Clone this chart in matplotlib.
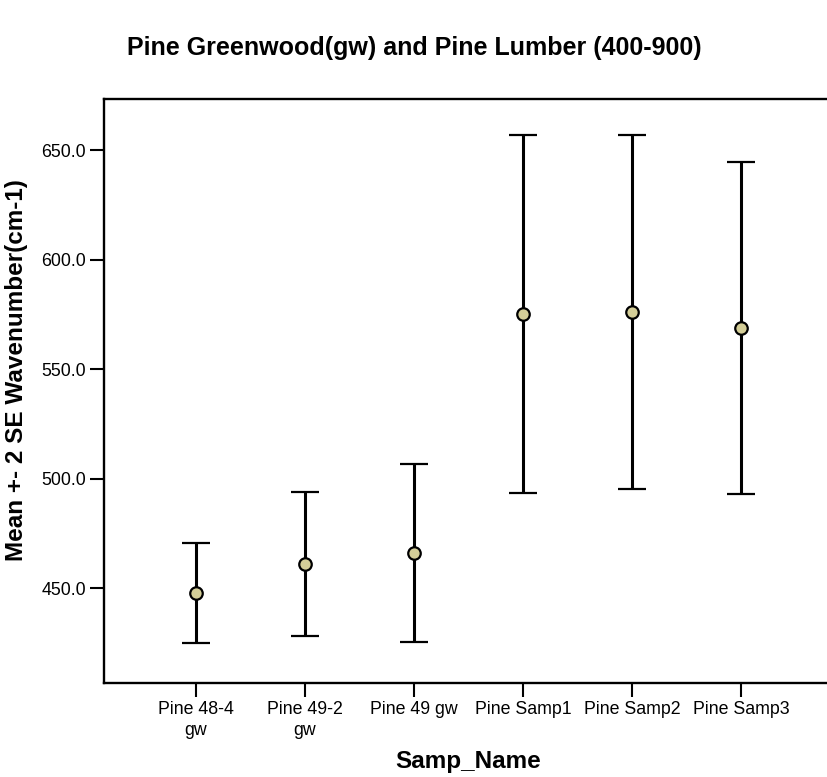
import matplotlib
matplotlib.use("Agg")
import matplotlib.pyplot as plt
import numpy as np

plt.rcParams['font.family'] = ['Liberation Sans', 'DejaVu Sans']

samples = ["Pine 48-4\ngw", "Pine 49-2\ngw", "Pine 49 gw", "Pine Samp1", "Pine Samp2", "Pine Samp3"]
means = [447.7, 461.1, 466.0, 575.4, 575.9, 568.6]
upper = [470.5, 494.1, 506.9, 656.7, 656.7, 644.4]
lower = [425.0, 428.1, 425.3, 493.3, 495.1, 492.8]
yticks = [450.0, 500.0, 550.0, 600.0, 650.0]

fig = plt.figure(figsize=(8.28, 7.77), dpi=100)
ax = fig.add_axes([104/828, 1 - 682.7/777, (833 - 104)/828, (682.7 - 99)/777])

x = np.arange(len(samples))
m = np.array(means)
err = [m - np.array(lower), np.array(upper) - m]
ax.errorbar(x, m, yerr=err, fmt='o', color='black', ecolor='black',
            elinewidth=2.2, capsize=10, capthick=2.6,
            marker='o', markersize=9, markerfacecolor='#D4CE98',
            markeredgecolor='black', markeredgewidth=1.6, zorder=3)

ax.set_xlim(-0.84, 5.84)
ax.set_ylim(406.9, 673.3)
ax.set_xticks(x)
ax.set_xticklabels(samples, fontsize=12.8, linespacing=1.35)
ax.set_yticks(yticks)
ax.set_yticklabels([f"{v:.1f}" for v in yticks], fontsize=12.8)
ax.tick_params(axis='both', direction='out', length=10, width=1.5, pad=3, colors='black')

for s in ax.spines.values():
    s.set_linewidth(1.7)

ax.set_xlabel("Samp_Name", fontsize=17.5, fontweight='bold', labelpad=8)
ax.set_ylabel("Mean +- 2 SE Wavenumber(cm-1)", fontsize=17.5, fontweight='bold', labelpad=8)
ax.yaxis.set_label_coords(-0.104, 0.535)
fig.text(414/828, 1 - 48/777, "Pine Greenwood(gw) and Pine Lumber (400-900)",
         ha='center', va='center', fontsize=18, fontweight='bold')

fig.savefig("out.png", dpi=100)
